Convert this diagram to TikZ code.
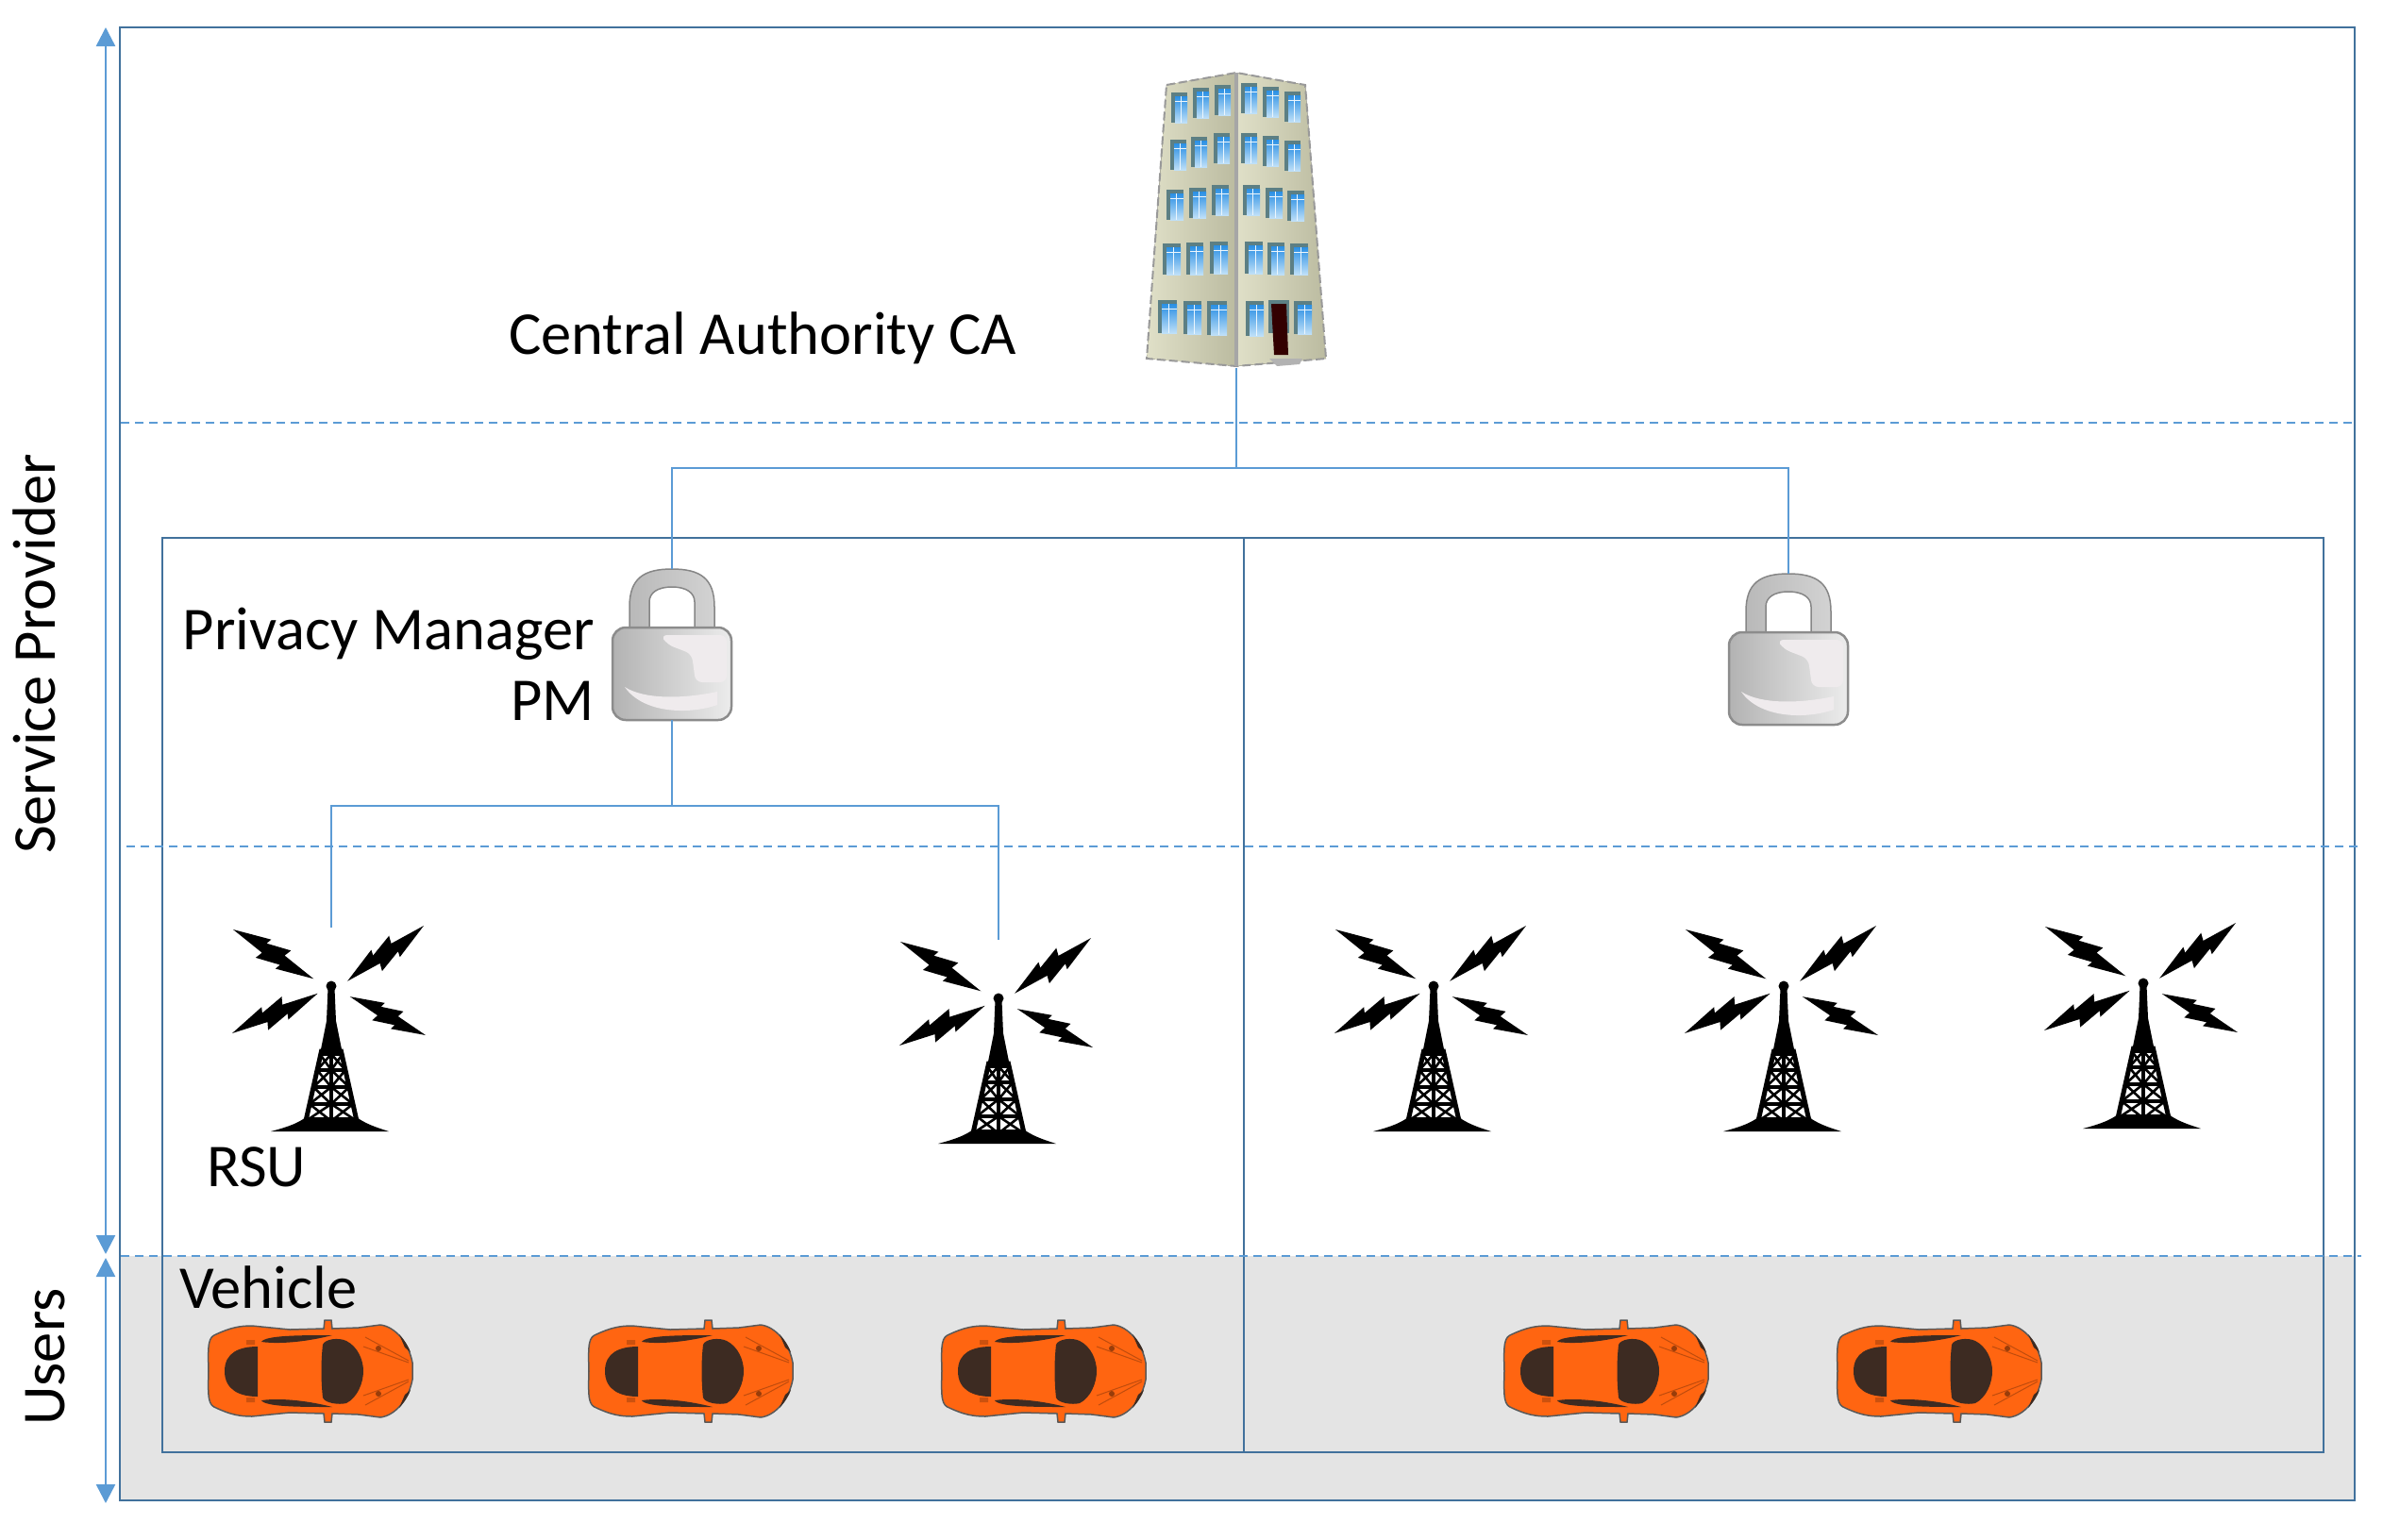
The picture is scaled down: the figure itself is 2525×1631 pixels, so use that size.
\documentclass[tikz,border=0pt]{standalone}
\usepackage{fontspec}
\setmainfont{Carlito}
\usetikzlibrary{positioning,arrows.meta}

\definecolor{boxblue}{HTML}{41719C}
\definecolor{linkblue}{HTML}{5B9BD5}
\definecolor{usergray}{HTML}{E4E4E4}
\definecolor{carorange}{HTML}{FF6511}
\definecolor{cardark}{HTML}{3D2B22}
\definecolor{wallA}{HTML}{E0E0C8}
\definecolor{wallB}{HTML}{BBBBA0}
\definecolor{frameblue}{HTML}{5C7F84}
\definecolor{glassblue}{HTML}{2A8FE4}
\definecolor{glasslight}{HTML}{BFE0F8}
\definecolor{lockshine}{HTML}{EFEBED}

\tikzset{
  bolt/.pic={
    \fill[black] (0,0) -- (40,-12) -- (38,-6) -- (64,-13) -- (61,-5) -- (100,0)
      -- (60,12) -- (62,6) -- (36,13) -- (39,5) -- cycle;
  },
  tower/.pic={
    \pic[shift={(-104,-137)},rotate=-31.5] {bolt};
    \pic[shift={(98,-141)},rotate=216] {bolt};
    \pic[shift={(-105,-27)},rotate=25] {bolt};
    \pic[shift={(100,-25)},rotate=153,scale=.9] {bolt};
    \fill[black] (0,-77) circle (5.5);
    \fill[black] (-3.5,-75) -- (3.5,-75) -- (5,-40) -- (12,-5) -- (-12,-5) -- (-5,-40) -- cycle;
    \draw[black,line width=5] (-10,-10) -- (-27,66) (10,-10) -- (27,66);
    \draw[black,line width=3.5] (0,-10) -- (0,66);
    \foreach \ya/\wa/\yb/\wb in {-5/12/12/15,12/15/30/19,30/19/48/23,48/23/66/27}{
      \draw[black,line width=3.5] (-\wa,\ya) -- (\wa,\ya);
      \draw[black,line width=2.6] (-\wa,\ya) -- (0,\yb) -- (\wa,\ya) (-\wb,\yb) -- (0,\ya) -- (\wb,\yb);
    }
    \fill[black] (-64,77) .. controls (-45,72) and (-35,68) .. (-27,62) -- (27,62)
      .. controls (35,68) and (45,72) .. (61,77) -- cycle;
  },
  lock/.pic={
    \draw[left color=gray!55,right color=gray!35,draw=gray!95,line width=1.5]
      (-45,-18) -- (-45,-40) .. controls (-45,-70) and (-30,-80) .. (0,-80)
      .. controls (30,-80) and (45,-70) .. (45,-40) -- (45,-18) -- (24,-18) -- (24,-45)
      .. controls (24,-55) and (15,-61) .. (0,-61)
      .. controls (-15,-61) and (-24,-55) .. (-24,-45) -- (-24,-18) -- cycle;
    \draw[left color=gray!60,right color=gray!15,draw=gray!90,line width=2.5,rounded corners=14]
      (-63,-18) rectangle (63,80);
    \fill[lockshine,rounded corners=7] (-12,-10) -- (58,-10) -- (58,40) -- (25,40) -- (21,10) -- (-5,0) -- cycle;
    \fill[lockshine] (-50,45) .. controls (-30,58) and (10,58) .. (48,50) -- (48,64)
      .. controls (20,74) and (-30,74) .. (-50,45) -- cycle;
  },
  car/.pic={
    \fill[carorange,draw=gray!70!black,line width=1.5] (-108,0) .. controls (-109,-30) and (-108,-36) .. (-100,-39)
      .. controls (-85,-46) and (-75,-48) .. (-62,-48) -- (-22,-44) -- (14,-45) -- (15,-54) -- (22,-54) -- (23,-45)
      -- (51,-46) -- (74,-49) .. controls (90,-47) and (104,-30) .. (108,-9) -- (108,9)
      .. controls (104,30) and (90,47) .. (74,49) -- (51,46) -- (23,45) -- (22,54) -- (15,54) -- (14,45)
      -- (-22,44) -- (-62,48) .. controls (-75,48) and (-85,46) .. (-100,39)
      .. controls (-108,36) and (-109,30) .. (-108,0) -- cycle;
    \fill[cardark] (-56,-26) -- (-56,27) .. controls (-75,27) and (-91,20) .. (-91,0)
      .. controls (-91,-20) and (-75,-26) .. (-56,-26) -- cycle;
    \fill[cardark] (13,-28) .. controls (15,-34) and (30,-36) .. (38,-32) .. controls (50,-26) and (56,-12) .. (56,0)
      .. controls (56,12) and (50,28) .. (38,34) .. controls (30,36) and (15,34) .. (13,28)
      .. controls (11,10) and (11,-10) .. (13,-28) -- cycle;
    \fill[cardark] (-52,-31) .. controls (-48,-38) and (-10,-38) .. (23,-38) .. controls (0,-32) and (-30,-28) .. (-52,-31) -- cycle;
    \fill[cardark] (-52,31) .. controls (-48,38) and (-10,38) .. (23,38) .. controls (0,32) and (-30,28) .. (-52,31) -- cycle;
    \fill[carorange!80!black] (-68,-33) rectangle (-59,-28) (-68,33) rectangle (-59,28);
    \draw[carorange!75!black,line width=1] (58,-36) -- (104,-11) (56,-26) -- (104,-9) (58,36) -- (104,11) (56,26) -- (104,9);
    \fill[carorange!60!black] (72,-24) circle (3) (72,24) circle (3);
    \fill[cardark] (94,-39) .. controls (100,-32) and (104,-26) .. (106,-20) -- (100,-25) -- cycle;
    \fill[cardark] (94,39) .. controls (100,32) and (104,26) .. (106,20) -- (100,25) -- cycle;
  },
  building/.pic={
    \fill[left color=wallA,right color=wallB] (-74,-143) -- (0,-156) -- (0,155) -- (-95,147) -- cycle;
    \fill[left color=wallA,right color=wallB] (0,-156) -- (73,-143) -- (95,147) -- (0,155) -- cycle;
    \draw[gray!80,line width=2,dash pattern=on 9 off 4] (-74,-143) -- (0,-156) -- (73,-143) -- (95,147) -- (0,155) -- (-95,147) -- cycle;
    \fill[gray!70] (-2,-156) rectangle (2,155);
    \foreach \wx/\wy/\ww/\wh in {
      -68/-135/16/32,-45/-140/16/32,-22/-143/16/32,6/-145/16/32,29/-141/16/32,52/-136/16/32,
      -69/-85/16/32,-47/-88/16/32,-23/-92/16/32,6/-92/16/32,29/-89/16/32,52/-84/16/32,
      -73/-32/17/32,-49/-34/17/32,-25/-37/17/32,8/-37/17/32,32/-34/17/32,55/-31/17/32,
      -77/25/18/33,-52/24/17/34,-27/23/18/34,10/23/18/34,34/24/17/34,58/25/18/33,
      -82/85/19/35,-55/86/18/35,-30/86/20/36,11/86/18/37,62/86/18/35}{
      \fill[frameblue] (\wx-1,\wy) rectangle ++(\ww+1,\wh);
      \fill[top color=glassblue,bottom color=glasslight] (\wx+3,\wy+4) rectangle ++(\ww-3,\wh-4);
      \draw[white!70!glasslight,line width=1] (\wx+\ww/2+1,\wy+4) -- ++(0,\wh-4) (\wx+3,\wy+9) -- ++(\ww-3,0);
    }
    \fill[frameblue] (34,85) rectangle (56,120);
    \fill[black!80!red] (37,89) -- (53,89) -- (55,143) -- (40,143) -- cycle;
    \fill[gray!60] (35,147) -- (70,147) -- (67,153) -- (43,155) -- cycle;
  }
}

\begin{document}
\begin{tikzpicture}[x=1pt,y=-1pt]
	\tikzstyle{frame}=[draw=boxblue,line width=2.5pt]
	\tikzstyle{tier}=[draw=linkblue,line width=1.8pt,dash pattern=on 9pt off 6pt]
	\tikzstyle{link}=[draw=linkblue,line width=2.2pt]
	\tikzstyle{span}=[draw=linkblue,line width=2.5pt,{Triangle[length=20pt,width=20pt]}-{Triangle[length=20pt,width=20pt]}]
	\tikzstyle{label}=[font=\fontsize{64.5}{75}\selectfont,inner sep=0pt]
	\tikzstyle{icon}=[inner sep=0pt,outer sep=0pt]
	\useasboundingbox (0,0) rectangle (2525,1631);

	% user band and frames
	\fill[usergray] (127,1331) rectangle (2495,1590);
	\draw[frame] (127,29) rectangle (2495,1590);
	\draw[frame] (172,570) rectangle (2462,1539);
	\draw[frame] (1318,570) -- (1318,1539);
	\draw[tier] (128,448) -- (2495,448);
	\draw[tier] (134,897) -- (2502,897);
	\draw[tier] (128,1331) -- (2502,1331);

	% icons
	\node[icon,minimum width=190pt,minimum height=314pt] (ca) at (1310,233) {};
	\pic at (ca) {building};
	\node[icon,minimum width=126pt,minimum height=160pt] (lockL) at (712,683) {};
	\node[icon,minimum width=126pt,minimum height=160pt] (lockR) at (1895,688) {};
	\pic at (lockL) {lock};
	\pic at (lockR) {lock};
	\foreach \name/\x/\y in {towerA/351/1122,towerB/1058/1135,towerC/1519/1122,towerD/1890/1122,towerE/2271/1119}{
		\node[icon,minimum width=210pt,minimum height=278pt] (\name) at (\x,\y) {};
		\pic at (\name) {tower};
	}
	\foreach \name/\x in {carA/329,carB/732,carC/1106,carD/1702,carE/2055}{
		\node[icon,minimum width=218pt,minimum height=108pt] (\name) at (\x,1453) {};
		\pic at (\name) {car};
	}

	% links
	\coordinate (caBus) at (1310,496);
	\coordinate (pmBus) at (712,854);
	\draw[link] (ca.south) -- (caBus);
	\draw[link] (lockL.north) |- (caBus) -| (lockR.north);
	\draw[link] (lockL.south) -- (pmBus);
	\draw[link] (towerA.north) |- (pmBus) -| (towerB.north);

	% side arrows
	\coordinate (spTop) at (112,29);
	\coordinate (spEnd) at (112,1329);
	\coordinate (usTop) at (112,1333);
	\coordinate (usEnd) at (112,1593);
	\draw[span] (spTop) -- (spEnd);
	\draw[span] (usTop) -- (usEnd);

	% labels
	\node[label,rotate=90] (provider) at (36,693) {Service Provider};
	\node[label,rotate=90] (users) at (48,1438) {Users};
	\node[label,anchor=west] (caText) at (539,358) {Central Authority CA};
	\node[label,anchor=north east,align=right] (pmText) at (630,644) {Privacy Manager\\PM};
	\node[label,anchor=west] (rsuText) at (219,1237) {RSU};
	\node[label,anchor=west] (vehicleText) at (190,1364) {Vehicle};
\end{tikzpicture}
\end{document}
